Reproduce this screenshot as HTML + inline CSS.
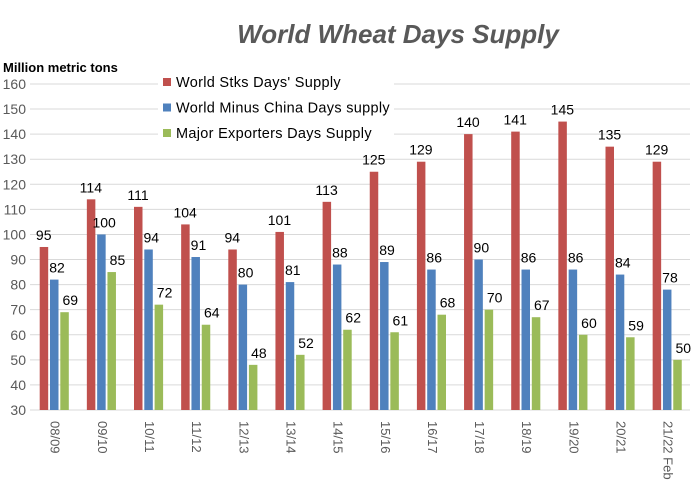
<!DOCTYPE html>
<html><head><meta charset="utf-8"><style>
body{margin:0;background:#fff;}
svg{display:block;font-family:"Liberation Sans",sans-serif;}
</style></head><body>
<svg id="c" width="694" height="488" xmlns="http://www.w3.org/2000/svg">
<text x="398" y="43" text-anchor="middle" font-size="26" font-weight="bold" font-style="italic" fill="#595959">World Wheat Days Supply</text>
<text x="3" y="72" font-size="13" font-weight="bold" fill="#000">Million  metric tons</text>
</svg>
<script>
var s=document.getElementById('c'),ns='http://www.w3.org/2000/svg';
function el(t,a,txt){var e=document.createElementNS(ns,t);for(var k in a)e.setAttribute(k,a[k]);if(txt!==undefined)e.textContent=txt;s.appendChild(e);return e;}
function Y(v){return 410-(v-30)*2.508;}
for(var v=30;v<=160;v+=10){var y=Y(v);el('line',{x1:30,x2:690,y1:y,y2:y,stroke:'#d9d9d9','stroke-width':1});el('text',{x:26,y:y+5,'text-anchor':'end','font-size':14,fill:'#595959'},v);}
var L=['08/09','09/10','10/11','11/12','12/13','13/14','14/15','15/16','16/17','17/18','18/19','19/20','20/21','21/22 Feb'];
var R=[95,114,111,104,94,101,113,125,129,140,141,145,135,129];
var B=[82,100,94,91,80,81,88,89,86,90,86,86,84,78];
var G=[69,85,72,64,48,52,62,61,68,70,67,60,59,50];
var C=['#C0504D','#4F81BD','#9BBB59'];
for(var i=0;i<14;i++){var x0=39.7+47.15*i;[R,B,G].forEach(function(d,j){var x=x0+j*10.3,v=d[i];el('rect',{x:x,y:Y(v),width:8.5,height:410-Y(v),fill:C[j]});el('text',{x:x+4+j*3,y:Y(v)-7,'text-anchor':'middle','font-size':14,fill:'#000'},v);});
var lx=x0+16;el('text',{x:0,y:0,'font-size':13,fill:'#595959',transform:'translate('+(lx-5)+',421) rotate(90)'},L[i]);}
el('rect',{x:158,y:70,width:236,height:76,fill:'#fff'});
var LT=["World Stks Days' Supply","World  Minus China Days supply","Major Exporters Days Supply"];
for(var j=0;j<3;j++){var cy=82+25.5*j;el('rect',{x:163,y:cy-4,width:8,height:8,fill:C[j]});el('text',{x:176,y:cy+5,'font-size':14.5,'letter-spacing':'0.3',fill:'#000'},LT[j]);}
</script>
</body></html>
